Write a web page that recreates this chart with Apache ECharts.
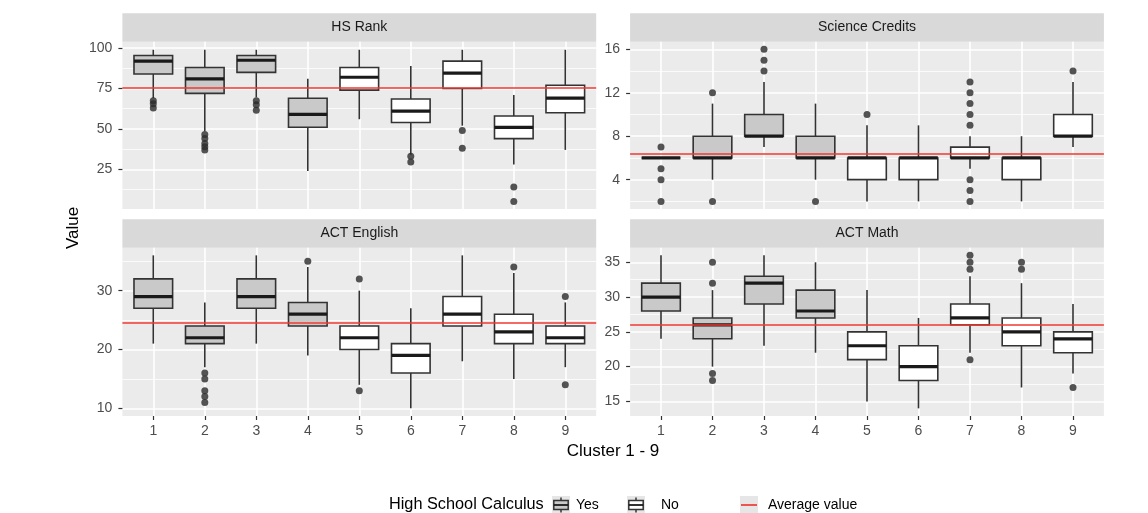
<!DOCTYPE html>
<html><head><meta charset="utf-8">
<script src="https://cdn.jsdelivr.net/npm/echarts@6/dist/echarts.min.js"></script>
<style>html,body{margin:0;padding:0;background:#fff}#c{width:1148px;height:513px}</style>
</head><body><div id="c"></div>
<script>
// ---------------- data ----------------
const clusters = [1, 2, 3, 4, 5, 6, 7, 8, 9];
const calculus = ['Yes', 'Yes', 'Yes', 'Yes', 'No', 'No', 'No', 'No', 'No'];
const panelTitles = ['HS Rank', 'Science Credits', 'ACT English', 'ACT Math'];

// each box: [lower whisker, Q1, median, Q3, upper whisker]
const hsRankBoxes = [
  [69, 84, 92, 95.5, 99], [48.5, 72, 81, 88, 99], [69.5, 85, 92.5, 95.5, 99],
  [24, 51, 59, 69, 81], [56, 74, 82, 88, 99], [34, 54, 61, 68.5, 89],
  [52, 75, 84.5, 92, 99], [28, 44, 51, 58, 71], [37, 60, 69, 77, 99]
];
const hsRankOutliers = [
  [67.5, 65.5, 63], [46.5, 44, 41, 39, 37], [67.5, 65, 61.5], [], [], [33, 29.5], [49, 38], [14, 5], []
];
const scienceBoxes = [
  [6, 6, 6, 6, 6], [4, 6, 6, 8, 11], [7, 8, 8, 10, 13],
  [4, 6, 6, 8, 11], [2, 4, 6, 6, 9], [2, 4, 6, 6, 9],
  [5, 6, 6, 7, 8], [2, 4, 6, 6, 8], [7, 8, 8, 10, 13]
];
const scienceOutliers = [
  [7, 5, 4, 2], [12, 2], [14, 15, 16], [2], [10], [], [9, 10, 11, 12, 13, 4, 3, 2], [], [14]
];
const englishBoxes = [
  [21, 27, 29, 32, 36], [17, 21, 22, 24, 28], [21, 27, 29, 32, 36],
  [19, 24, 26, 28, 34], [14, 20, 22, 24, 30], [10, 16, 19, 21, 27],
  [18, 24, 26, 29, 36], [15, 21, 23, 26, 33], [17, 21, 22, 24, 28]
];
const englishOutliers = [
  [], [16, 15, 13, 12, 11], [], [35], [32, 13], [], [], [34], [29, 14]
];
const mathBoxes = [
  [24, 28, 30, 32, 36], [20, 24, 26, 27, 31], [23, 29, 32, 33, 36],
  [22, 27, 28, 31, 35], [15, 21, 23, 25, 31], [14, 18, 20, 23, 27],
  [22, 26, 27, 29, 33], [17, 23, 25, 27, 32], [19, 22, 24, 25, 29]
];
const mathOutliers = [
  [], [35, 32, 19, 18], [], [], [], [], [36, 35, 34, 21], [35, 34], [17]
];
const averages = [75.6, 6.4, 24.6, 26.0];

const hsRankTicks = [25, 50, 75, 100];
const hsRankMinor = [12.5, 37.5, 62.5, 87.5];
const scienceTicks = [4, 8, 12, 16];
const scienceMinor = [2, 6, 10, 14];
const englishTicks = [10, 20, 30];
const englishMinor = [15, 25, 35];
const mathTicks = [15, 20, 25, 30, 35];
const mathMinor = [17.5, 22.5, 27.5, 32.5];

const yRanges = [[0.4, 104], [1.3, 16.7], [8.7, 37.3], [12.9, 37.1]];

// ---------------- layout / style ----------------
const FONT = '"Liberation Sans", Arial, Helvetica, sans-serif';
const panelLeft = [122.4, 630.1, 122.4, 630.1];
const panelTop = [41.7, 41.7, 247.7, 247.7];
const panelW = 473.8;
const panelH = [167.3, 167.3, 168.3, 168.3];
const stripH = 28.5;
const YES_FILL = '#c9c9c9', NO_FILL = '#ffffff', EDGE = '#333333', AVG = '#f03a32';

const boxes = [hsRankBoxes, scienceBoxes, englishBoxes, mathBoxes];
const outliers = [hsRankOutliers, scienceOutliers, englishOutliers, mathOutliers];
const majors = [hsRankTicks, scienceTicks, englishTicks, mathTicks];
const minors = [hsRankMinor, scienceMinor, englishMinor, mathMinor];

function renderBox(params, api) {
  const x = api.value(0);
  const lo = api.value(1), q1 = api.value(2), med = api.value(3), q3 = api.value(4), hi = api.value(5);
  const yes = calculus[params.dataIndex] === 'Yes';
  const halfW = api.size([0.75, 0], [x, med])[0] / 2;
  const pHi = api.coord([x, hi]), pQ3 = api.coord([x, q3]), pMed = api.coord([x, med]);
  const pQ1 = api.coord([x, q1]), pLo = api.coord([x, lo]);
  const cx = pMed[0];
  return {
    type: 'group',
    children: [
      { type: 'line', shape: { x1: cx, y1: pHi[1], x2: cx, y2: pQ3[1] }, style: { stroke: EDGE, lineWidth: 1.6 } },
      { type: 'line', shape: { x1: cx, y1: pQ1[1], x2: cx, y2: pLo[1] }, style: { stroke: EDGE, lineWidth: 1.6 } },
      { type: 'rect', shape: { x: cx - halfW, y: pQ3[1], width: 2 * halfW, height: pQ1[1] - pQ3[1] },
        style: { fill: yes ? YES_FILL : NO_FILL, stroke: EDGE, lineWidth: 1.6 } },
      { type: 'line', shape: { x1: cx - halfW, y1: pMed[1], x2: cx + halfW, y2: pMed[1] },
        style: { stroke: '#1a1a1a', lineWidth: 3.2 } }
    ]
  };
}

const grid = [], xAxis = [], yAxis = [], series = [], graphic = [];
for (let i = 0; i < 4; i++) {
  grid.push({ left: panelLeft[i], top: panelTop[i], width: panelW, height: panelH[i],
    show: true, backgroundColor: '#ebebeb', borderWidth: 0 });
  const bottom = i >= 2;
  xAxis.push({
    type: 'value', gridIndex: i, min: 0.4, max: 9.6,
    axisLine: { show: false },
    axisTick: { show: bottom, length: 4, lineStyle: { color: EDGE, width: 1.2 }, customValues: clusters },
    axisLabel: { show: bottom, customValues: clusters, color: '#4d4d4d', fontSize: 14, fontFamily: FONT, margin: 8 },
    splitLine: { show: true, lineStyle: { color: '#ffffff', width: 1.6 } }
  });
  yAxis.push({
    type: 'value', gridIndex: i, min: yRanges[i][0], max: yRanges[i][1],
    axisLine: { show: false },
    axisTick: { show: true, length: 4, lineStyle: { color: EDGE, width: 1.2 }, customValues: majors[i] },
    axisLabel: { customValues: majors[i], color: '#4d4d4d', fontSize: 14, fontFamily: FONT, margin: 10 },
    splitLine: { show: true, lineStyle: { color: '#ffffff', width: 1.6 } }
  });
  yAxis.push({
    type: 'value', gridIndex: i, min: yRanges[i][0], max: yRanges[i][1], position: 'left',
    axisLine: { show: false },
    axisTick: { show: false, customValues: minors[i] },
    axisLabel: { show: false },
    splitLine: { show: true, lineStyle: { color: '#ffffff', width: 0.8 } }
  });
  series.push({
    type: 'custom', name: panelTitles[i], xAxisIndex: i, yAxisIndex: 2 * i,
    renderItem: renderBox, encode: { x: 0, y: [1, 2, 3, 4, 5] }, z: 3,
    data: boxes[i].map((b, k) => [clusters[k]].concat(b))
  });
  const pts = [];
  outliers[i].forEach((list, k) => list.forEach(v => pts.push([clusters[k], v])));
  series.push({
    type: 'scatter', name: panelTitles[i] + ' outliers', xAxisIndex: i, yAxisIndex: 2 * i, z: 4,
    symbol: 'circle', symbolSize: 7, itemStyle: { color: '#2b2b2b' }, data: pts,
    markLine: { silent: true, z: 10, symbol: ['none', 'none'], label: { show: false },
      lineStyle: { color: AVG, width: 1.7, type: 'solid' }, data: [{ yAxis: averages[i] }] }
  });
  graphic.push({ type: 'rect', shape: { x: panelLeft[i], y: panelTop[i] - stripH, width: panelW, height: stripH },
    style: { fill: '#d9d9d9' }, silent: true });
  graphic.push({ type: 'text', x: panelLeft[i] + panelW / 2, y: panelTop[i] - stripH / 2,
    style: { text: panelTitles[i], fill: '#1a1a1a', font: '14px ' + FONT, align: 'center', verticalAlign: 'middle' } });
}

// axis titles
graphic.push({ type: 'text', x: 73, y: 228, rotation: Math.PI / 2,
  style: { text: 'Value', fill: '#000', font: '17px ' + FONT, align: 'center', verticalAlign: 'middle' } });
graphic.push({ type: 'text', x: 613, y: 451,
  style: { text: 'Cluster 1 - 9', fill: '#000', font: '17px ' + FONT, align: 'center', verticalAlign: 'middle' } });

// legend
const LY = 505, KS = 18;
function boxKey(x0, fill) {
  const y0 = LY - KS / 2;
  return [
    { type: 'rect', shape: { x: x0, y: y0, width: KS, height: KS }, style: { fill: '#e6e6e6' } },
    { type: 'line', shape: { x1: x0 + KS / 2, y1: y0 + KS * 0.08, x2: x0 + KS / 2, y2: y0 + KS * 0.92 }, style: { stroke: EDGE, lineWidth: 1.5 } },
    { type: 'rect', shape: { x: x0 + KS * 0.1, y: y0 + KS * 0.25, width: KS * 0.8, height: KS * 0.5 }, style: { fill: fill, stroke: EDGE, lineWidth: 1.5 } },
    { type: 'line', shape: { x1: x0 + KS * 0.1, y1: LY, x2: x0 + KS * 0.9, y2: LY }, style: { stroke: '#1a1a1a', lineWidth: 1.8 } }
  ];
}
graphic.push({ type: 'text', x: 389, y: LY, style: { text: 'High School Calculus', fill: '#000', font: '16.3px ' + FONT, align: 'left', verticalAlign: 'middle' } });
boxKey(552, YES_FILL).forEach(g => graphic.push(g));
graphic.push({ type: 'text', x: 576, y: LY, style: { text: 'Yes', fill: '#000', font: '14px ' + FONT, align: 'left', verticalAlign: 'middle' } });
boxKey(627, NO_FILL).forEach(g => graphic.push(g));
graphic.push({ type: 'text', x: 661, y: LY, style: { text: 'No', fill: '#000', font: '14px ' + FONT, align: 'left', verticalAlign: 'middle' } });
graphic.push({ type: 'rect', shape: { x: 740, y: LY - KS / 2, width: KS, height: KS }, style: { fill: '#e6e6e6' } });
graphic.push({ type: 'line', shape: { x1: 741, y1: LY, x2: 757, y2: LY }, style: { stroke: AVG, lineWidth: 1.7 } });
graphic.push({ type: 'text', x: 768, y: LY, style: { text: 'Average value', fill: '#000', font: '14px ' + FONT, align: 'left', verticalAlign: 'middle' } });

const chart = echarts.init(document.getElementById('c'), null, { renderer: 'canvas' });
chart.setOption({
  animation: false,
  backgroundColor: '#ffffff',
  textStyle: { fontFamily: FONT },
  grid, xAxis, yAxis, series, graphic
});
</script>
</body></html>
